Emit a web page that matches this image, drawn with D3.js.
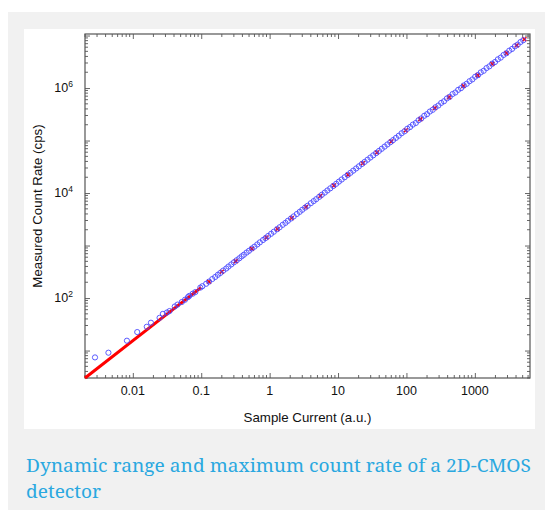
<!DOCTYPE html>
<html>
<head>
<meta charset="utf-8">
<script src="https://cdn.jsdelivr.net/npm/d3@7"></script>
<style>
  body { margin: 0; background: #fff; }
  svg { display: block; }
  .tick-label { font-family: "Liberation Sans", Arial, sans-serif; font-size: 12.5px; fill: #111; }
  .title { font-family: "Liberation Sans", Arial, sans-serif; font-size: 13.3px; fill: #111; }
</style>
</head>
<body>
<div id="chart"></div>
<script>
const currentX = [
  0.0028, 0.0044, 0.0082, 0.0116, 0.016, 0.0184, 0.0246, 0.0275, 0.0315, 0.0344,
  0.041, 0.045, 0.052, 0.058, 0.064, 0.067, 0.075, 0.082, 0.097, 0.104,
  0.118, 0.13, 0.145, 0.16, 0.175, 0.19, 0.21, 0.232, 0.25, 0.275,
  0.3, 0.33, 0.36, 0.39, 0.42, 0.46, 0.5, 0.55, 0.6, 0.66,
  0.72, 0.8, 0.87, 0.95, 1.05, 1.15, 1.28, 1.4, 1.55, 1.7,
  1.85, 2.05, 2.25, 2.5, 2.75, 3.0, 3.3, 3.6, 4.0, 4.4,
  4.8, 5.3, 5.8, 6.4, 7.0, 7.7, 8.5, 9.4, 10.3, 11.3,
  12.5, 13.8, 15.2, 16.7, 18.4, 20.2, 22.3, 24.5, 27, 29.7,
  32.7, 36, 39.6, 43.5, 47.9, 52.7, 58, 63.8, 70.2, 77.2,
  84.9, 93.4, 103, 113, 124, 137, 150, 165, 182, 200,
  220, 242, 266, 293, 322, 354, 390, 429, 472, 519,
  571, 628, 690, 760, 836, 920, 1010, 1110, 1220, 1345,
  1480, 1630, 1790, 1970, 2170, 2390, 2630, 2890, 3180, 3500,
  3850, 4230, 4650, 5100
];
const countY = [
  7.4, 9.1, 15.4, 22.5, 28.4, 33.9, 42, 50, 53, 56.5,
  69, 75, 84, 93, 104, 110, 121, 130, 158, 168,
  187, 206, 230, 252, 277, 300, 334, 365, 398, 437,
  478, 525, 571, 622, 668, 735, 795, 878, 952, 1050,
  1150, 1275, 1385, 1520, 1675, 1830, 2040, 2230, 2480, 2700,
  2960, 3270, 3590, 3990, 4380, 4800, 5280, 5730, 6400, 7020,
  7650, 8450, 9280, 10200, 11200, 12300, 13600, 15000, 16500, 18100,
  20000, 22100, 24300, 26700, 29400, 32300, 35700, 39200, 43200, 47500,
  52300, 57600, 63400, 69600, 76600, 84300, 92800, 102000, 112300, 123500,
  137500, 149400, 168000, 180800, 201000, 216000, 243000, 264000, 296000, 318000,
  357000, 385000, 431000, 465000, 521000, 560000, 633000, 680000, 768000, 822000,
  925000, 996000, 1120000, 1205000, 1350000, 1460000, 1640000, 1760000, 1985000, 2130000,
  2400000, 2590000, 2910000, 3130000, 3520000, 3800000, 4270000, 4600000, 5150000, 5560000,
  6230000, 6720000, 7520000, 8150000
];

// linear fit (red)
const fitLineX = [0.002, 0.1];
const fitLineY = [3, 160];
const fitMarkX = [0.13, 0.2, 0.32, 0.55, 0.9, 1.3, 2.1, 3.4, 5.5, 8.7, 14, 23, 37, 60, 98, 160, 260, 420, 680, 1100, 1800, 2900, 4100, 5300];
const fitMarkY = [205, 318, 505, 868, 1420, 2060, 3340, 5420, 8800, 13900, 22400, 36800, 59300, 96000, 157000, 256000, 416000, 672000, 1090000, 1760000, 2880000, 4640000, 6560000, 8480000];

// axes
const xDomain = [0.002, 6400];
const yDomain = [3, 1.07e7];
const xMajor = [0.01, 0.1, 1, 10, 100, 1000];
const xMajorLabels = ["0.01", "0.1", "1", "10", "100", "1000"];
const yMajor = [1e1, 1e2, 1e3, 1e4, 1e5, 1e6, 1e7];
const yLabelExps = [2, 4, 6];

const xTitle = "Sample Current (a.u.)";
const yTitle = "Measured Count Rate (cps)";
const captionLines = ["Dynamic range and maximum count rate of a 2D-CMOS", "detector"];

const W = 545, H = 510;
const plot = { left: 85, top: 34, right: 530, bottom: 378 };

const svg = d3.select("#chart").append("svg")
    .attr("width", W)
    .attr("height", H);

// page backgrounds
svg.append("rect").attr("x", 8).attr("y", 12).attr("width", W - 8).attr("height", H - 12).attr("fill", "#f1f1f1");
svg.append("rect").attr("x", 24).attr("y", 29).attr("width", 511).attr("height", 400).attr("fill", "#fff");

const x = d3.scaleLog().domain(xDomain).range([plot.left, plot.right]);
const y = d3.scaleLog().domain(yDomain).range([plot.bottom, plot.top]);

// minor tick values from the log scale
function minorTicks(scale) {
    const [a, b] = scale.domain();
    const out = [];
    for (let e = Math.floor(Math.log10(a)); e <= Math.ceil(Math.log10(b)); e++) {
        for (let m = 2; m <= 9; m++) {
            const v = m * Math.pow(10, e);
            if (v >= a && v <= b) out.push(v);
        }
    }
    return out;
}

const tickColor = "#666";
const axisG = svg.append("g");

// bottom / top
[["bottom", plot.bottom, -1], ["top", plot.top, 1]].forEach(([side, yy, dir]) => {
    const ax = (side === "bottom" ? d3.axisBottom(x) : d3.axisTop(x));
    const g = axisG.append("g").attr("transform", `translate(0,${yy})`);
    g.call(ax.tickValues(xMajor).tickSize(0).tickFormat(""));
    g.select(".domain").remove();
    g.selectAll(".tick").append("line").attr("y2", 5 * dir).attr("stroke", tickColor);
    g.selectAll(".minor").data(minorTicks(x)).join("line")
        .attr("class", "minor")
        .attr("x1", d => x(d)).attr("x2", d => x(d))
        .attr("y1", 0).attr("y2", 3 * dir)
        .attr("stroke", tickColor);
});

// left / right
[["left", plot.left, 1], ["right", plot.right, -1]].forEach(([side, xx, dir]) => {
    const ax = (side === "left" ? d3.axisLeft(y) : d3.axisRight(y));
    const g = axisG.append("g").attr("transform", `translate(${xx},0)`);
    g.call(ax.tickValues(yMajor).tickSize(0).tickFormat(""));
    g.select(".domain").remove();
    g.selectAll(".tick").append("line").attr("x2", 5 * dir).attr("stroke", tickColor);
    g.selectAll(".minor").data(minorTicks(y)).join("line")
        .attr("class", "minor")
        .attr("y1", d => y(d)).attr("y2", d => y(d))
        .attr("x1", 0).attr("x2", 3 * dir)
        .attr("stroke", tickColor);
});

// frame
svg.append("rect")
    .attr("x", plot.left).attr("y", plot.top)
    .attr("width", plot.right - plot.left).attr("height", plot.bottom - plot.top)
    .attr("fill", "none").attr("stroke", "#555").attr("stroke-width", 1.2);

// x tick labels
svg.append("g").selectAll("text").data(xMajor).join("text")
    .attr("class", "tick-label")
    .attr("x", d => x(d)).attr("y", plot.bottom + 17)
    .attr("text-anchor", "middle")
    .text((d, i) => xMajorLabels[i]);

// y tick labels 10^n
const yl = svg.append("g").selectAll("text").data(yLabelExps).join("text")
    .attr("class", "tick-label")
    .attr("x", plot.left - 12).attr("y", d => y(Math.pow(10, d)) + 4)
    .attr("text-anchor", "end");
yl.append("tspan").text("10");
yl.append("tspan").attr("dy", -5).attr("font-size", 8.5).text(d => d);

// titles
svg.append("text")
    .attr("class", "title")
    .attr("x", (plot.left + plot.right) / 2).attr("y", 422)
    .attr("text-anchor", "middle")
    .text(xTitle);
svg.append("text")
    .attr("class", "title")
    .attr("transform", `translate(42,${(plot.top + plot.bottom) / 2}) rotate(-90)`)
    .attr("text-anchor", "middle")
    .text(yTitle);

// data
const dataG = svg.append("g");
const line = d3.line().x(d => x(d[0])).y(d => y(d[1]));
dataG.append("path")
    .datum(fitLineX.map((v, i) => [v, fitLineY[i]]))
    .attr("d", line)
    .attr("fill", "none").attr("stroke", "#f00").attr("stroke-width", 3);

dataG.selectAll(".fx").data(fitMarkX.map((v, i) => [v, fitMarkY[i]])).join("path")
    .attr("class", "fx")
    .attr("transform", d => `translate(${x(d[0])},${y(d[1])})`)
    .attr("d", "M-2,-2L2,2M-2,2L2,-2")
    .attr("stroke", "#f00").attr("stroke-width", 1.5);

dataG.selectAll("circle").data(currentX.map((v, i) => [v, countY[i]])).join("circle")
    .attr("cx", d => x(d[0])).attr("cy", d => y(d[1]))
    .attr("r", 2.6)
    .attr("fill", "none").attr("stroke", "#4a4aff").attr("stroke-width", 0.9);

// caption
const capLen = [505, 75];
svg.append("g").selectAll("text").data(captionLines).join("text")
    .attr("x", 26).attr("y", (d, i) => 472 + i * 26)
    .attr("font-family", "'Noto Serif', 'DejaVu Serif', serif")
    .attr("font-size", 18.5)
    .attr("fill", "#2aa8e0")
    .attr("textLength", (d, i) => capLen[i])
    .attr("lengthAdjust", "spacingAndGlyphs")
    .text(d => d);
</script>
</body>
</html>
